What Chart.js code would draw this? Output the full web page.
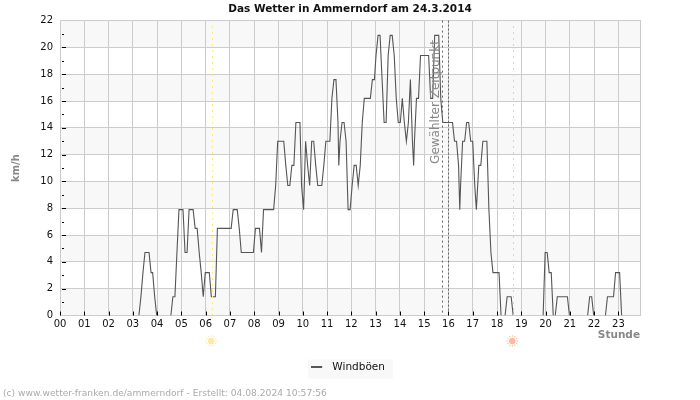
<!DOCTYPE html>
<html>
<head>
<meta charset="utf-8">
<title>Das Wetter in Ammerndorf</title>
<script src="https://cdn.jsdelivr.net/npm/chart.js@4"></script>
<style>
  html, body { margin: 0; padding: 0; background: #fff; }
  canvas { display: block; }
</style>
</head>
<body>
<canvas id="wetter" width="700" height="400"></canvas>
<script>
const hourLabels = ['00','01','02','03','04','05','06','07','08','09','10','11','12','13','14','15','16','17','18','19','20','21','22','23'];

// minutes of the day, null in gusts = no wind, line is broken there
const minutes = [
  195,200,205,210,215,220,225,229,234,239,240,
  274,279,284,289,294,299,304,309,314,319,324,329,334,339,344,349,354,359,364,369,374,379,384,389,394,399,404,409,414,418,423,428,433,438,443,
  448,453,458,463,468,473,478,483,488,493,498,503,508,513,518,523,528,533,538,543,548,553,558,563,568,573,578,583,588,593,597,602,607,612,617,
  622,627,632,637,642,647,652,657,662,667,672,677,682,687,689,692,697,702,707,712,717,722,727,732,737,742,747,752,757,762,767,772,777,
  781,786,791,796,801,806,811,816,821,826,831,836,841,846,851,856,861,866,871,874,876,881,886,891,896,901,906,911,916,921,926,931,936,941,946,
  951,956,961,965,970,975,980,985,988,990,995,1000,1005,1010,1015,1020,1025,1029,1035,1040,1045,1050,1055,1060,1065,1070,1075,1080,1085,1090,1091,
  1100,1105,1110,1115,1120,1121,
  1194,1199,1204,1209,1214,1219,1220,
  1224,1229,1234,1239,1244,1249,1254,1259,1260,
  1304,1309,1314,1319,1320,
  1348,1353,1358,1363,1368,1373,1378,1383,1388
];
const gusts = [
  0,1.4,3.2,4.7,4.7,4.7,3.2,3.2,1.4,0,null,
  0,1.4,1.4,4.7,7.9,7.9,7.9,4.7,4.7,7.9,7.9,7.9,6.5,6.5,4.7,3.2,1.4,3.2,3.2,3.2,1.4,1.4,1.4,6.5,6.5,6.5,6.5,6.5,6.5,6.5,6.5,7.9,7.9,7.9,6.5,
  4.7,4.7,4.7,4.7,4.7,4.7,4.7,6.5,6.5,6.5,4.7,7.9,7.9,7.9,7.9,7.9,7.9,9.7,13,13,13,13,11.2,9.7,9.7,11.2,11.2,14.4,14.4,14.4,9.7,7.9,13,11.2,9.7,
  13,13,11.2,9.7,9.7,9.7,11.2,13,13,13,16.2,17.6,17.6,14.4,11.2,13,14.4,14.4,13,7.9,7.9,9.7,11.2,11.2,9.7,11.2,14.4,16.2,16.2,16.2,16.2,17.6,17.6,
  19.4,20.9,20.9,17.6,14.4,14.4,19.4,20.9,20.9,19.4,16.2,14.4,14.4,16.2,14.4,13,14.4,17.6,13,11.2,13,16.2,16.2,19.4,19.4,19.4,19.4,19.4,16.2,16.2,20.9,20.9,20.9,16.2,14.4,
  14.4,14.4,14.4,14.4,14.4,13,13,11.2,7.9,9.7,13,13,14.4,14.4,13,13,9.7,7.9,11.2,11.2,13,13,13,7.9,4.7,3.2,3.2,3.2,3.2,0,null,
  0,1.4,1.4,1.4,0,null,
  0,4.7,4.7,3.2,3.2,0,null,
  0,1.4,1.4,1.4,1.4,1.4,1.4,0,null,
  0,1.4,1.4,0,null,
  0,1.4,1.4,1.4,1.4,3.2,3.2,3.2,0
];

const lastHour = 23.89;
const sunrise = 6 + 15 / 60;
const sunset = 18 + 39 / 60;
const selectedStart = 15 + 44 / 60;
const selectedEnd = 16;

const drawSun = (ctx, x, y, color) => {
    ctx.save();
    ctx.strokeStyle = color;
    ctx.fillStyle = color;
    ctx.lineWidth = 1;
    ctx.beginPath();
    ctx.arc(x, y, 3.2, 0, Math.PI * 2);
    ctx.fill();
    for (let i = 0; i < 12; i++) {
        const a = i * Math.PI / 6;
        ctx.beginPath();
        ctx.moveTo(x + Math.cos(a) * 4.2, y + Math.sin(a) * 4.2);
        ctx.lineTo(x + Math.cos(a) * 5.8, y + Math.sin(a) * 5.8);
        ctx.stroke();
    }
    ctx.restore();
}

const vline = (ctx, x, top, bottom, color, dash) => {
    ctx.save();
    ctx.strokeStyle = color;
    ctx.lineWidth = 1;
    ctx.setLineDash(dash);
    ctx.beginPath();
    ctx.moveTo(Math.round(x) + 0.5, top);
    ctx.lineTo(Math.round(x) + 0.5, bottom);
    ctx.stroke();
    ctx.restore();
}

// short line plus empty room, the gap to the legend text is wider than Chart.js leaves
const legendMark = document.createElement('canvas');
legendMark.width = 16;
legendMark.height = 2;
legendMark.getContext('2d').fillStyle = '#555';
legendMark.getContext('2d').fillRect(0, 0, 11, 2);

const wetterDecor = {
    id: 'wetterDecor',
    afterLayout(chart) {
        // legend sits a little left of the centre and lower in its box in the original
        chart.legend.left -= 2;
        chart.legend.right -= 2;
        chart.legend.top += 4;
    },
    beforeDraw(chart) {
        const {ctx, chartArea, scales: {y}, legend} = chart;
        ctx.save();
        ctx.fillStyle = '#f8f8f8';
        for (let v = 0; v < 22; v += 4) {
            const top = y.getPixelForValue(v + 2);
            ctx.fillRect(chartArea.left, top, chartArea.width, y.getPixelForValue(v) - top);
        }
        const hit = legend.legendHitBoxes[0];
        ctx.fillRect(hit.left - 3, legend.top - 2, hit.width + 11, 19);
        ctx.restore();
    },
    afterDatasetsDraw(chart) {
        const {ctx, chartArea, scales: {x, y}} = chart;
        const left = chartArea.left, bottom = chartArea.bottom;

        vline(ctx, x.getPixelForValue(sunrise), 26, bottom, '#ffee66', [2, 4]);
        vline(ctx, x.getPixelForValue(sunset), 26, bottom, '#f8cf90', [2, 4]);
        vline(ctx, x.getPixelForValue(selectedStart), chartArea.top, bottom, '#666', [2, 3]);
        vline(ctx, x.getPixelForValue(selectedEnd), chartArea.top, bottom, '#666', [2, 2]);

        ctx.save();
        ctx.fillStyle = '#000';
        for (let h = 0; h < 24; h++) {
            ctx.fillRect(Math.round(x.getPixelForValue(h)), bottom - 4, 1, 4);
        }
        for (let v = 1; v < 22; v++) {
            const py = Math.round(y.getPixelForValue(v));
            ctx.fillRect(left + 2, py, v % 2 ? 2 : 4, 1);
        }
        ctx.translate(436, 102);
        ctx.rotate(-Math.PI / 2);
        ctx.fillStyle = '#888';
        ctx.font = '12px "DejaVu Sans"';
        ctx.textAlign = 'center';
        ctx.fillText('Gewählter Zeitpunkt', 0, 0);
        ctx.restore();

        drawSun(ctx, x.getPixelForValue(sunrise) - 0.5, 341, '#ffe9a6');
        drawSun(ctx, x.getPixelForValue(sunset) - 0.5, 341, '#ffb9a0');
    }
};

new Chart(document.getElementById('wetter'), {
    type: 'line',
    data: {
        datasets: [{
            label: 'Windböen',
            data: minutes.map((m, i) => ({x: m / 60, y: gusts[i]})),
            borderColor: '#555',
            borderWidth: 1.1,
            pointRadius: 0,
            tension: 0,
            spanGaps: false
        }]
    },
    plugins: [wetterDecor],
    options: {
        responsive: false,
        animation: false,
        layout: {padding: {left: 3, right: 3, top: 0, bottom: 0}},
        scales: {
            x: {
                type: 'linear',
                min: 0,
                max: lastHour,
                afterFit: (scale) => { scale.height = 42; },
                grid: {color: '#ccc', drawTicks: false},
                border: {color: '#ccc'},
                ticks: {
                    stepSize: 1,
                    includeBounds: false,
                    autoSkip: false,
                    maxRotation: 0,
                    padding: 3,
                    color: '#111',
                    font: {family: 'DejaVu Sans', size: 10},
                    callback: (v) => hourLabels[v] || ''
                },
                title: {
                    display: true,
                    text: 'Stunde',
                    align: 'end',
                    color: '#888',
                    font: {family: 'DejaVu Sans', size: 10.5, weight: 'bold'},
                    padding: {top: 0, bottom: 16}
                }
            },
            y: {
                min: 0,
                max: 22,
                afterFit: (scale) => { scale.width = 57; },
                grid: {color: '#ccc', drawTicks: false},
                border: {color: '#ccc'},
                ticks: {
                    stepSize: 2,
                    padding: 7,
                    color: '#111',
                    font: {family: 'DejaVu Sans', size: 10}
                },
                title: {
                    display: true,
                    text: 'km/h',
                    color: '#888',
                    font: {family: 'DejaVu Sans', size: 10, weight: 'bold'},
                    padding: {top: 7, bottom: 0}
                }
            },
            // empty axis, keeps the room right of the plot without moving the centred title
            spacer: {
                position: 'right',
                min: 0,
                max: 22,
                afterFit: (scale) => { scale.width = 57; },
                grid: {display: false},
                border: {color: '#ccc'},
                ticks: {display: false}
            }
        },
        plugins: {
            title: {
                display: true,
                text: 'Das Wetter in Ammerndorf am 24.3.2014',
                color: '#111',
                font: {family: 'DejaVu Sans', size: 10.5, weight: 'bold'},
                padding: {top: 3, bottom: 5}
            },
            subtitle: {
                display: true,
                position: 'bottom',
                align: 'start',
                text: '(c) www.wetter-franken.de/ammerndorf - Erstellt: 04.08.2024 10:57:56',
                color: '#aaa',
                font: {family: 'DejaVu Sans', size: 9.15},
                padding: {top: 10, bottom: 1}
            },
            legend: {
                position: 'bottom',
                labels: {
                    usePointStyle: true,
                    pointStyleWidth: 16,
                    padding: 0,
                    color: '#111',
                    font: {family: 'DejaVu Sans', size: 10.5},
                    generateLabels: () => [{text: 'Windböen', pointStyle: legendMark, fontColor: '#111'}]
                }
            },
            tooltip: {enabled: false}
        }
    }
});
</script>
</body>
</html>
